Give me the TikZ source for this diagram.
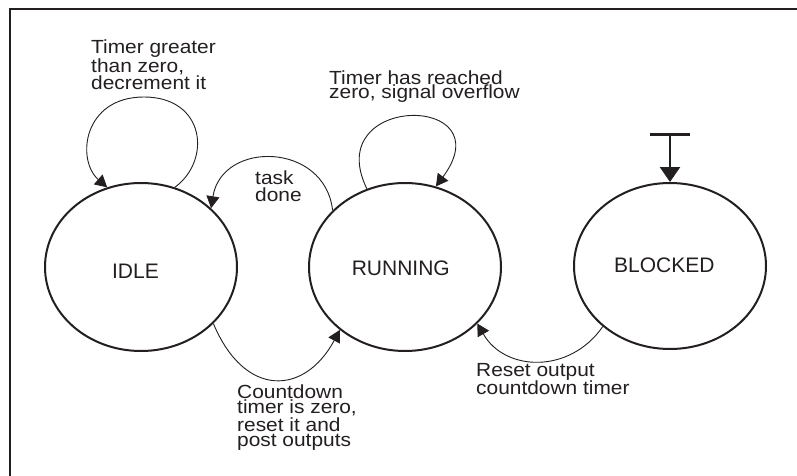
\documentclass[tikz,border=0pt]{standalone}
\usepackage{fontspec}
\setmainfont{Liberation Sans}
\newfontfamily\lblfont{Liberation Sans}[FakeStretch=1.1]
\usetikzlibrary{shapes.geometric,arrows.meta}
\definecolor{ink}{RGB}{35,31,32}
\begin{document}
\begin{tikzpicture}[x=1pt,y=-1pt,
  state/.style={ellipse, draw=ink, line width=2pt, minimum width=192pt, minimum height=168pt, inner sep=0pt},
  conn/.style={draw=ink, line width=0.9pt, -{Triangle[length=12pt,width=13pt]}},
  lbl/.style={anchor=north west, inner sep=0pt, align=left, text=ink, font=\lblfont\fontsize{19}{14.5}\selectfont},
  slbl/.style={text=ink, font=\fontsize{21}{25}\selectfont, inner sep=0pt}
]
\useasboundingbox (0,0) rectangle (797,476);
\fill[white] (0,0) rectangle (797,476);
\draw[ink, line width=2.2pt] (10,480) -- (10,9) -- (800,9);

\node[state, label={[slbl,xshift=-5.5pt,yshift=-4.7pt]center:IDLE}] (idle) at (141,267) {};
\node[state, label={[slbl,xshift=-4.2pt,yshift=-1.3pt]center:RUNNING}] (running) at (405,267) {};
\node[state, minimum height=166pt, label={[slbl,xshift=-5.7pt,yshift=0.5pt]center:BLOCKED}] (blocked) at (670,266) {};

% self loop on IDLE
\draw[conn] (idle.67) .. controls (212,160) and (205,97) .. (144,97)
            .. controls (83,97) and (76,160) .. (idle.113);
% task done
\draw[conn] (running.142) .. controls (325,142) and (222,140) .. (idle.40);
% self loop on RUNNING
\draw[conn] (running.116) .. controls (320,93) and (505,93) .. (running.69);
% countdown
\draw[conn] (idle.322) .. controls (245,399) and (305,395) .. (running.224);
% reset
\draw[conn] (blocked.222) .. controls (570,374) and (505,372) .. (running.322);
% initial arrow
\coordinate (init) at (670,133);
\draw[ink, line width=2.5pt, {Bar[width=40pt]}-{Triangle[length=15pt,width=20pt]}] (init) -- (blocked.north);

\node[lbl] (l1) at (91,40) {Timer greater\\than zero,\\decrement it};
\node[lbl, font=\lblfont\fontsize{19}{17}\selectfont] (l2) at (255,171) {task\\done};
\node[lbl, font=\lblfont\fontsize{19}{14}\selectfont] (l3) at (329,71) {Timer has reached\\zero, signal overflow};
\node[lbl, font=\lblfont\fontsize{19}{15}\selectfont] (l4) at (237,385) {Countdown\\timer is zero,\\reset it and\\post outputs};
\node[lbl, font=\lblfont\fontsize{19}{16.3}\selectfont] (l5) at (476,363) {Reset output\\countdown timer};
\end{tikzpicture}
\end{document}
